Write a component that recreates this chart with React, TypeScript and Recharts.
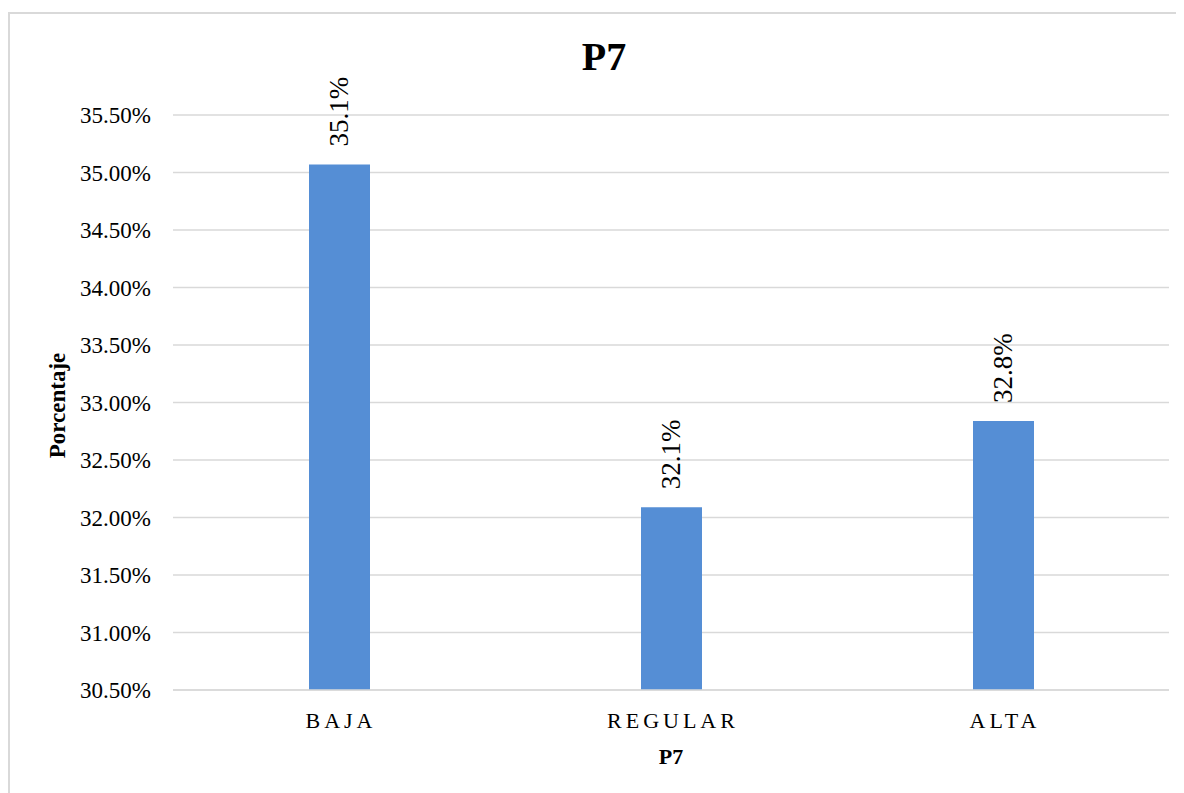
import React from "react"
import { BarChart, Bar, XAxis, YAxis, CartesianGrid, LabelList, Label } from "recharts"

const categories = ["BAJA", "REGULAR", "ALTA"]
const porcentajes = [35.07, 32.09, 32.84]
const yTicks = [30.5, 31, 31.5, 32, 32.5, 33, 33.5, 34, 34.5, 35, 35.5]

const data = categories.map((name, i) => ({ name, value: porcentajes[i] }))

const FONT = '"Liberation Serif", "Times New Roman", serif'
const BAR_COLOR = "#558ED5"
const GRID = "#d9d9d9"

const CategoryTick = (props: any) => {
  const { x, y, payload } = props
  return (
    <text
      x={x + 2}
      y={y + 36}
      textAnchor="middle"
      fontFamily={FONT}
      fontSize={22}
      letterSpacing={4}
      fill="#000"
    >
      {payload.value}
    </text>
  )
}

const BarValue = (props: any) => {
  const { x, y, width, value } = props
  const cx = x + width / 2
  const cy = y - 18
  return (
    <text
      x={cx}
      y={cy}
      transform={`rotate(-90, ${cx}, ${cy})`}
      textAnchor="start"
      dominantBaseline="central"
      fontFamily={FONT}
      fontSize={27}
      fill="#000"
    >
      {`${Number(value).toFixed(1)}%`}
    </text>
  )
}

export default function App() {
  return (
    <div style={{ position: "relative", width: 1176, height: 785, overflow: "hidden", background: "#fff" }}>
      <div
        style={{
          position: "absolute",
          left: 0,
          top: 4,
          width: 1300,
          height: 900,
          border: `2px solid ${GRID}`,
        }}
      />
      <div
        style={{
          position: "absolute",
          left: 596,
          top: 29,
          transform: "translateX(-50%)",
          fontFamily: FONT,
          fontWeight: "bold",
          fontSize: 40,
          lineHeight: 1,
          color: "#000",
        }}
      >
        P7
      </div>
      <BarChart
        width={1176}
        height={785}
        data={data}
        margin={{ top: 107, right: 15, bottom: 0, left: 0 }}
        style={{ position: "absolute", left: 0, top: 0 }}
      >
        <CartesianGrid vertical={false} stroke={GRID} strokeWidth={1.5} />
        <XAxis
          dataKey="name"
          height={103}
          axisLine={{ stroke: GRID, strokeWidth: 1.5 }}
          tickLine={false}
          tickSize={0}
          tick={<CategoryTick />}
          interval={0}
        >
          <Label
            content={(p: any) => {
              const vb = p.viewBox
              return (
                <text
                  x={vb.x + vb.width / 2}
                  y={vb.y + 74}
                  textAnchor="middle"
                  fontFamily={FONT}
                  fontWeight="bold"
                  fontSize={22}
                  fill="#000"
                >
                  P7
                </text>
              )
            }}
          />
        </XAxis>
        <YAxis
          width={165}
          domain={[30.5, 35.5]}
          ticks={yTicks}
          allowDataOverflow
          axisLine={false}
          tickLine={false}
          tickSize={0}
          tickMargin={22}
          tickFormatter={(v: number) => `${v.toFixed(2)}%`}
          tick={{ fontFamily: FONT, fontSize: 23, fill: "#000" }}
        >
          <Label
            content={(p: any) => {
              const vb = p.viewBox
              const cx = 49
              const cy = vb.y + vb.height / 2 + 3
              return (
                <text
                  x={cx}
                  y={cy}
                  transform={`rotate(-90, ${cx}, ${cy})`}
                  textAnchor="middle"
                  dominantBaseline="central"
                  fontFamily={FONT}
                  fontWeight="bold"
                  fontSize={23}
                  fill="#000"
                >
                  Porcentaje
                </text>
              )
            }}
          />
        </YAxis>
        <Bar dataKey="value" fill={BAR_COLOR} barSize={61} isAnimationActive={false}>
          <LabelList dataKey="value" content={<BarValue />} />
        </Bar>
      </BarChart>
    </div>
  )
}
